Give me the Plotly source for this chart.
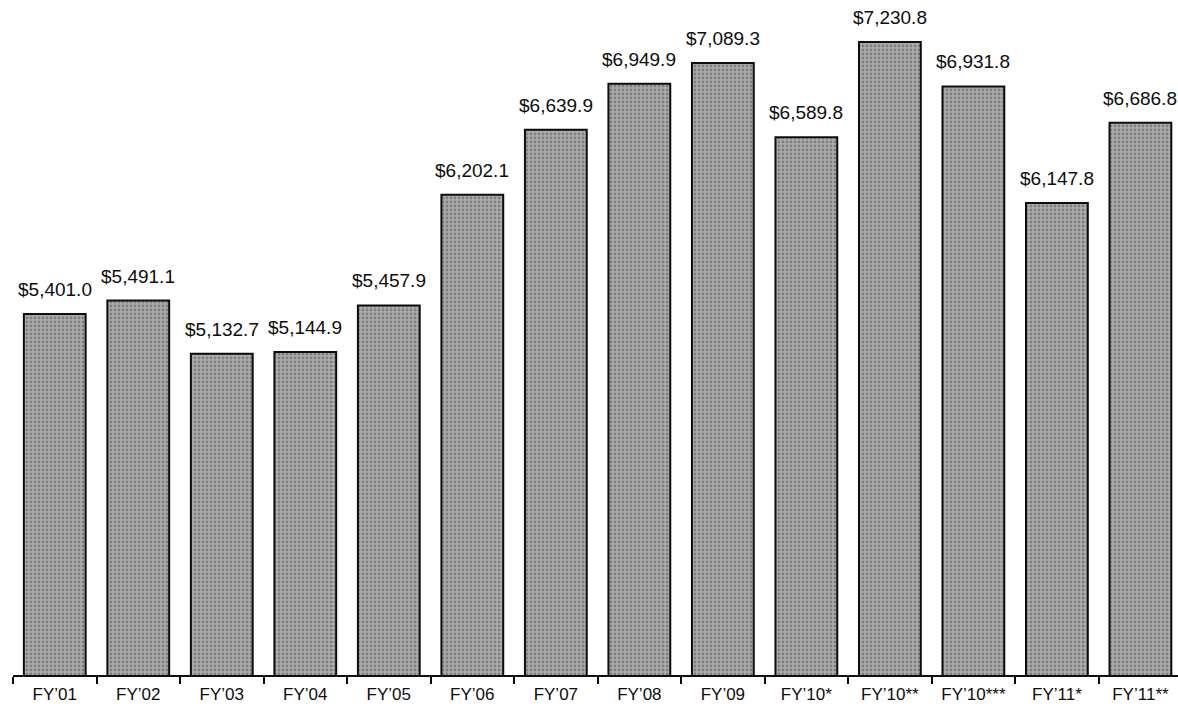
import plotly.graph_objects as go

categories = ["FY\u201901", "FY\u201902", "FY\u201903", "FY\u201904", "FY\u201905", "FY\u201906", "FY\u201907",
              "FY\u201908", "FY\u201909", "FY\u201910*", "FY\u201910**", "FY\u201910***", "FY\u201911*", "FY\u201911**"]
values = [5401.0, 5491.1, 5132.7, 5144.9, 5457.9, 6202.1, 6639.9,
          6949.9, 7089.3, 6589.8, 7230.8, 6931.8, 6147.8, 6686.8]
labels = ["$" + f"{v:,.1f}" for v in values]

fig = go.Figure()
fig.add_trace(go.Bar(
    x=categories, y=values,
    marker=dict(
        color="#9e9e9e",
        line=dict(color="#0d0d0d", width=2),
        pattern=dict(shape=".", fgcolor="#4f4f4f", bgcolor="#adadad", size=4, solidity=0.4),
    ),
    hoverinfo="skip",
))

for c, v, t in zip(categories, values, labels):
    fig.add_annotation(x=c, y=v, text=t, showarrow=False, yanchor="bottom", yshift=12,
                       font=dict(family="Liberation Sans, Arial, sans-serif", size=19, color="#0d0d0d"))

fig.update_layout(
    width=1178, height=711,
    margin=dict(l=13, r=0, t=0, b=36),
    paper_bgcolor="white", plot_bgcolor="white",
    bargap=0.26,
    showlegend=False,
    xaxis=dict(
        type="category", range=[-0.5, 13.45],
        showline=True, linecolor="#0d0d0d", linewidth=2,
        ticks="outside", tickson="boundaries", ticklen=7, tickcolor="#0d0d0d", tickwidth=2,
        ticklabelstandoff=3,
        showgrid=False, zeroline=False,
        tickfont=dict(family="Liberation Sans, Arial, sans-serif", size=17, color="#0d0d0d"),
    ),
    yaxis=dict(range=[2972, 7513], visible=False, showgrid=False, zeroline=False),
)

fig.write_html("out.html")
